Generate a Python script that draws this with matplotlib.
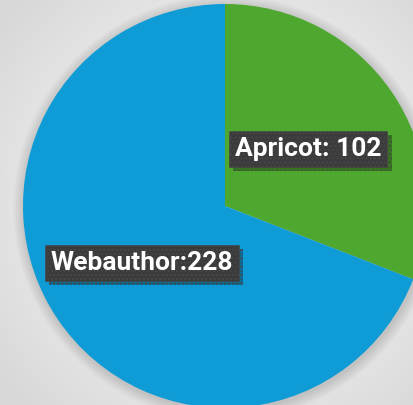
"""Two-slice pie, zoomed in so the disc overflows the right edge."""

import matplotlib

matplotlib.use("Agg")
import matplotlib.patheffects as pe
import matplotlib.pyplot as plt
import numpy as np

labels = ["Apricot", "Webauthor"]
values = [102, 228]
label_text = ["Apricot: 102", "Webauthor:228"]
colors = ["#4ea82f", "#0f9cd6"]

W, H = 413, 405
fig = plt.figure(figsize=(W / 100, H / 100), dpi=100)
ax = fig.add_axes([0, 0, 1, 1])

# soft grey radial background
yy, xx = np.mgrid[0:H, 0:W]
dist = np.hypot(xx - W * 0.55, yy - H * 0.5) / np.hypot(W, H) * 2
shade = 0.965 - 0.12 * np.clip(dist, 0, 1) ** 1.5
ax.imshow(np.dstack([shade] * 3), extent=(0, W, 0, H), origin="lower", zorder=0)

center = (225, 199)
radius = 202

# faint diffuse shadow under the pie
for k in range(1, 12):
    ax.add_patch(plt.Circle((center[0] + 1, center[1] - 2), radius + k,
                            color="black", alpha=0.01, lw=0, zorder=1))

wedges, texts = ax.pie(values, labels=label_text, colors=colors, startangle=90,
                       counterclock=False, center=center, radius=radius,
                       labeldistance=0.5, frame=True,
                       wedgeprops=dict(linewidth=0, zorder=2),
                       textprops=dict(color="white", fontsize=19, fontweight="bold",
                                      family=["Roboto", "DejaVu Sans"]))
ax.set_xlim(0, W)
ax.set_ylim(0, H)
ax.set_aspect("equal")
ax.axis("off")

for t in texts:
    t.set_ha("center")
    t.set_va("center")
    t.set_zorder(5)
    t.set_bbox(dict(boxstyle="square,pad=0.22", fc="#3b3b3b", ec="#474747",
                    lw=0.4, hatch="...."))
    t.get_bbox_patch().set_path_effects(
        [pe.SimplePatchShadow(offset=(3, -3), shadow_rgbFace="black", alpha=0.3), pe.Normal()])

fig.savefig("out.png", dpi=100)
